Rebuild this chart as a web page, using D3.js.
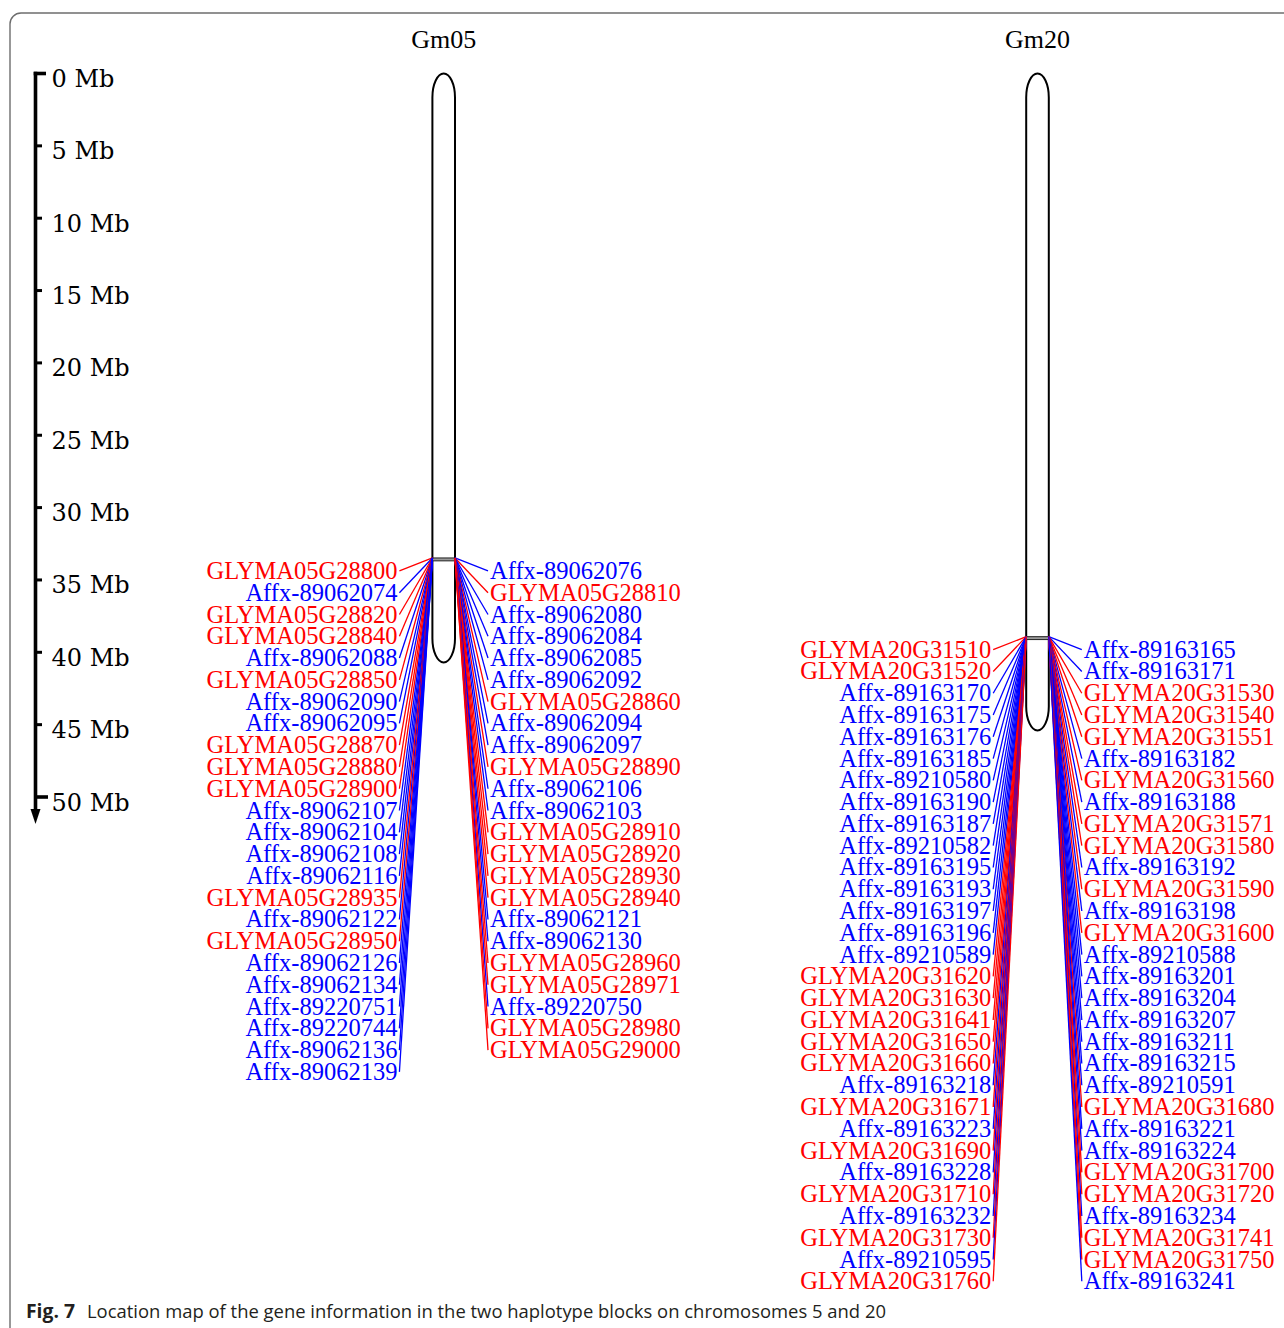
<!DOCTYPE html>
<html>
<head>
<meta charset="utf-8">
<script src="https://cdn.jsdelivr.net/npm/d3@7"></script>
<style>
  html, body { margin: 0; padding: 0; background: #fff; }
  svg { display: block; }
</style>
</head>
<body>
<svg id="chart" width="1284" height="1328"></svg>
<script>
// ---------------- DATA ----------------
const chromosomes = ["Gm05", "Gm20"];
const chromLengthMb = [40.7, 45.4];
const blockStartMb = [33.48, 38.92];
const blockEndMb = [33.68, 39.12];
const axisTicks = [0, 5, 10, 15, 20, 25, 30, 35, 40, 45, 50];
const axisTickLabels = ["0 Mb", "5 Mb", "10 Mb", "15 Mb", "20 Mb", "25 Mb", "30 Mb", "35 Mb", "40 Mb", "45 Mb", "50 Mb"];

const gm05Left = ["GLYMA05G28800", "Affx-89062074", "GLYMA05G28820", "GLYMA05G28840", "Affx-89062088",
  "GLYMA05G28850", "Affx-89062090", "Affx-89062095", "GLYMA05G28870", "GLYMA05G28880", "GLYMA05G28900",
  "Affx-89062107", "Affx-89062104", "Affx-89062108", "Affx-89062116", "GLYMA05G28935", "Affx-89062122",
  "GLYMA05G28950", "Affx-89062126", "Affx-89062134", "Affx-89220751", "Affx-89220744", "Affx-89062136",
  "Affx-89062139"];
const gm05Right = ["Affx-89062076", "GLYMA05G28810", "Affx-89062080", "Affx-89062084", "Affx-89062085",
  "Affx-89062092", "GLYMA05G28860", "Affx-89062094", "Affx-89062097", "GLYMA05G28890", "Affx-89062106",
  "Affx-89062103", "GLYMA05G28910", "GLYMA05G28920", "GLYMA05G28930", "GLYMA05G28940", "Affx-89062121",
  "Affx-89062130", "GLYMA05G28960", "GLYMA05G28971", "Affx-89220750", "GLYMA05G28980", "GLYMA05G29000"];
const gm20Left = ["GLYMA20G31510", "GLYMA20G31520", "Affx-89163170", "Affx-89163175", "Affx-89163176",
  "Affx-89163185", "Affx-89210580", "Affx-89163190", "Affx-89163187", "Affx-89210582", "Affx-89163195",
  "Affx-89163193", "Affx-89163197", "Affx-89163196", "Affx-89210589", "GLYMA20G31620", "GLYMA20G31630",
  "GLYMA20G31641", "GLYMA20G31650", "GLYMA20G31660", "Affx-89163218", "GLYMA20G31671", "Affx-89163223",
  "GLYMA20G31690", "Affx-89163228", "GLYMA20G31710", "Affx-89163232", "GLYMA20G31730", "Affx-89210595",
  "GLYMA20G31760"];
const gm20Right = ["Affx-89163165", "Affx-89163171", "GLYMA20G31530", "GLYMA20G31540", "GLYMA20G31551",
  "Affx-89163182", "GLYMA20G31560", "Affx-89163188", "GLYMA20G31571", "GLYMA20G31580", "Affx-89163192",
  "GLYMA20G31590", "Affx-89163198", "GLYMA20G31600", "Affx-89210588", "Affx-89163201", "Affx-89163204",
  "Affx-89163207", "Affx-89163211", "Affx-89163215", "Affx-89210591", "GLYMA20G31680", "Affx-89163221",
  "Affx-89163224", "GLYMA20G31700", "GLYMA20G31720", "Affx-89163234", "GLYMA20G31741", "GLYMA20G31750",
  "Affx-89163241"];

const captionBold = "Fig. 7";
const captionText = "Location map of the gene information in the two haplotype blocks on chromosomes 5 and 20";

// ---------------- LAYOUT ----------------
const svg = d3.select("#chart");
const y = d3.scaleLinear().domain([0, 50]).range([73.5, 797]);
const x = d3.scalePoint().domain(chromosomes).range([443.7, 1037.5]);
const chromW = 22.6;
const labelStep = 21.78;
const labelOffset = 13;
const lineGap = 33;
const textGap = 35;
const colorOf = n => n.startsWith("GLYMA") ? "#ff0000" : "#0000ff";

// frame
svg.append("rect")
  .attr("x", 10).attr("y", 13).attr("width", 1300).attr("height", 1340)
  .attr("rx", 11).attr("ry", 11)
  .attr("fill", "none").attr("stroke", "#6d6d6d").attr("stroke-width", 1.4);

// ---------------- AXIS ----------------
const axX = 35.5;
const ax = svg.append("g");
ax.append("line").attr("x1", axX).attr("x2", axX)
  .attr("y1", y(0) - 1.8).attr("y2", 812)
  .attr("stroke", "#000").attr("stroke-width", 3.6);
ax.append("path")
  .attr("d", `M${axX - 5},809 L${axX + 5},809 L${axX},824 Z`)
  .attr("fill", "#000");
ax.selectAll("line.tick").data(axisTicks).enter().append("line")
  .attr("class", "tick")
  .attr("x1", d => d === 0 ? axX - 1.8 : axX)
  .attr("x2", d => d === 0 ? 46 : (d === 50 ? 48 : 42))
  .attr("y1", d => y(d)).attr("y2", d => y(d))
  .attr("stroke", "#000").attr("stroke-width", d => (d === 0 || d === 50) ? 3.6 : 3);
ax.selectAll("text").data(axisTicks).enter().append("text")
  .attr("x", 51.5).attr("y", d => y(d) + 13.5)
  .attr("font-family", "'DejaVu Serif', serif").attr("font-size", 24)
  .attr("fill", "#000")
  .text((d, i) => axisTickLabels[i]);

// ---------------- CHROMOSOMES ----------------
const sides = [
  { chr: 0, left: gm05Left, right: gm05Right },
  { chr: 1, left: gm20Left, right: gm20Right }
];

sides.forEach(s => {
  const name = chromosomes[s.chr];
  const cx = x(name);
  const xl = cx - chromW / 2, xr = cx + chromW / 2;
  const by = y(blockStartMb[s.chr]);
  const g = svg.append("g");

  // title
  g.append("text").attr("x", cx).attr("y", 47.5)
    .attr("text-anchor", "middle")
    .attr("font-family", "'Liberation Serif', 'Times New Roman', serif")
    .attr("font-size", 26).attr("fill", "#000").text(name);

  // body
  g.append("rect")
    .attr("x", xl).attr("y", y(0))
    .attr("width", chromW).attr("height", y(chromLengthMb[s.chr]) - y(0))
    .attr("rx", chromW / 2).attr("ry", 24)
    .attr("fill", "#fff").attr("stroke", "#000").attr("stroke-width", 2);

  // block
  g.append("rect")
    .attr("x", xl).attr("y", by)
    .attr("width", chromW).attr("height", y(blockEndMb[s.chr]) - by)
    .attr("fill", "#9a9a9a").attr("stroke", "#222").attr("stroke-width", 1);

  // connector lines
  const lg = g.append("g").attr("fill", "none").attr("stroke-width", 1.3);
  lg.selectAll("line.l").data(s.left).enter().append("line")
    .attr("x1", xl).attr("y1", by)
    .attr("x2", xl - lineGap).attr("y2", (d, i) => by + labelOffset + i * labelStep)
    .attr("stroke", colorOf);
  lg.selectAll("line.r").data(s.right).enter().append("line")
    .attr("x1", xr).attr("y1", by)
    .attr("x2", xr + lineGap).attr("y2", (d, i) => by + labelOffset + i * labelStep)
    .attr("stroke", colorOf);

  // labels
  const tg = g.append("g")
    .attr("font-family", "'Liberation Serif', 'Times New Roman', serif")
    .attr("font-size", 24.5);
  tg.selectAll("text.l").data(s.left).enter().append("text")
    .attr("x", xl - textGap).attr("y", (d, i) => by + labelOffset + i * labelStep + 8)
    .attr("text-anchor", "end").attr("fill", colorOf).text(d => d);
  tg.selectAll("text.r").data(s.right).enter().append("text")
    .attr("x", xr + textGap).attr("y", (d, i) => by + labelOffset + i * labelStep + 8)
    .attr("text-anchor", "start").attr("fill", colorOf).text(d => d);
});

// ---------------- CAPTION ----------------
const cap = svg.append("g").attr("font-family", "'Open Sans', 'Noto Sans', sans-serif").attr("fill", "#231f20");
cap.append("text").attr("x", 26).attr("y", 1318)
  .attr("font-size", 19).attr("font-weight", "bold")
  .attr("textLength", 49).attr("lengthAdjust", "spacingAndGlyphs")
  .text(captionBold);
cap.append("text").attr("x", 87).attr("y", 1318)
  .attr("font-size", 19)
  .attr("textLength", 799).attr("lengthAdjust", "spacingAndGlyphs")
  .text(captionText);
</script>
</body>
</html>
